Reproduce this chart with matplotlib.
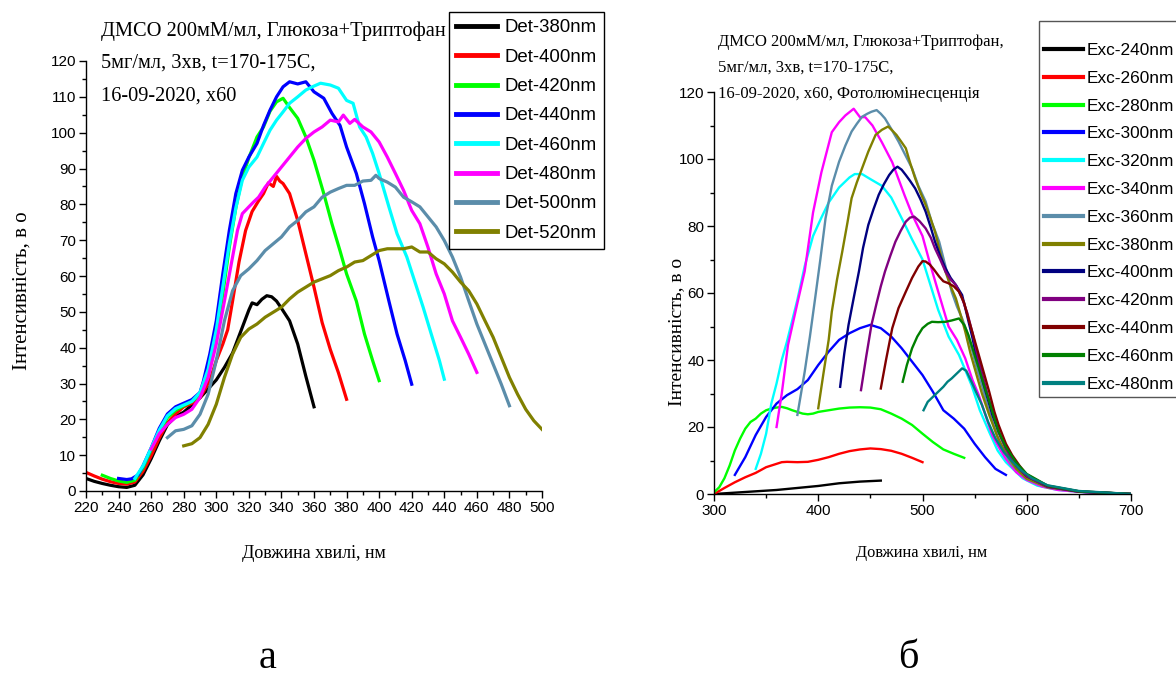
import matplotlib
matplotlib.use("Agg")
import matplotlib.pyplot as plt
from matplotlib.ticker import MultipleLocator

SANS = ["Liberation Sans", "DejaVu Sans"]
SERIF = ["Liberation Serif", "DejaVu Serif"]

# ---- panel (а): detection at fixed emission, scanned excitation ----
det380_nm = [220, 225, 230, 235, 240, 245, 250, 255, 260, 265, 270, 275, 280, 285, 290, 295, 300, 305,
             310, 315, 320, 322, 325, 328, 331, 334, 337, 340, 345, 350, 355, 360]
det380_i = [3.5, 2.7, 2.1, 1.6, 1.2, 1.0, 1.6, 4.5, 9, 14, 18.5, 20.8, 22, 24, 26, 28.5, 31, 34.5,
            38.5, 44.5, 50.5, 52.5, 52, 53.5, 54.5, 54.2, 53, 51, 47.5, 41, 32, 23.5]

det400_nm = [220, 225, 230, 235, 240, 245, 250, 255, 260, 265, 270, 275, 280, 285, 290, 296, 300, 304,
             307, 310, 314, 318, 322, 326, 329, 332, 335, 337, 339, 341, 345, 350, 355, 360, 365, 370,
             375, 380]
det400_i = [5.2, 4.2, 3.3, 2.6, 2.1, 1.9, 2.5, 5.5, 9.8, 14.8, 19, 21.5, 23.5, 24.5, 26, 30.8, 36.4, 41,
            45, 53, 64, 72.7, 78, 81, 83, 86, 85, 87.8, 86.5, 85.8, 83, 75.5, 66.2, 56.9, 47, 39.5,
            33, 25.6]

det420_nm = [230, 235, 240, 245, 250, 255, 260, 265, 270, 275, 280, 285, 290, 296, 300, 304, 308, 312,
             316, 320, 325, 329, 333, 337, 341, 345, 350, 355, 360, 366, 371, 376, 380, 386, 391, 396, 400]
det420_i = [4.4, 3.5, 2.8, 2.4, 3.0, 6.5, 11.5, 16.5, 20.5, 22.5, 23.8, 25, 26.6, 34.5, 43.8, 55, 68, 79,
            87.6, 93, 98.8, 101.6, 106, 108.6, 109.6, 107, 104, 98.8, 92.3, 83, 74.6, 67, 60.6, 53, 43.8,
            36.4, 30.8]

det440_nm = [240, 245, 248, 252, 255, 260, 265, 270, 275, 280, 285, 290, 292, 296, 300, 304, 308, 312,
             316, 320, 325, 329, 333, 337, 341, 345, 350, 355, 360, 366, 371, 376, 380, 386, 391, 396,
             400, 406, 411, 416, 420]
det440_i = [3.5, 3.2, 3.4, 4.5, 7.0, 12, 17.5, 21.5, 23.5, 24.5, 25.5, 27.5, 30.5, 38.2, 47.5, 60.6, 72.7,
            83, 89.5, 93.2, 97, 102, 106.3, 110, 112.8, 114.2, 113.6, 114.2, 111.4, 109.6, 105.4, 102,
            96, 88.6, 80.2, 70.9, 64.3, 53, 43.8, 36.4, 29.8]

det460_nm = [250, 255, 260, 265, 270, 275, 280, 285, 290, 295, 300, 304, 308, 312, 316, 320, 325, 329,
             333, 337, 341, 345, 350, 355, 359, 364, 370, 375, 380, 384, 388, 392, 396, 400, 406, 411,
             417, 421, 427, 432, 437, 440]
det460_i = [3.5, 7, 12, 17, 21, 23, 24, 25, 27.5, 34, 45, 57, 69, 79, 86.7, 90.4, 93.2, 97, 100.7,
            103.5, 105.8, 108.2, 110, 111.9, 112.8, 113.8, 113.3, 112.4, 109, 108.2, 101.6, 98.8, 94.2,
            88.6, 79.3, 71.8, 65.3, 59.7, 51.3, 43.8, 36.4, 31.2]

det480_nm = [260, 265, 270, 275, 280, 285, 290, 295, 300, 305, 310, 313, 316, 320, 323, 326, 330, 335,
             340, 345, 350, 355, 360, 365, 370, 375, 378, 382, 385, 390, 395, 400, 405, 410, 415, 420,
             425, 430, 435, 440, 445, 450, 455, 460]
det480_i = [11.7, 16, 18.6, 20.5, 21.4, 22.8, 26.1, 31.7, 41, 53, 65.3, 72.7, 77.4, 79.3, 80.7, 82, 84.8,
            87.6, 90.4, 93.2, 96, 98.4, 100.2, 101.6, 103.5, 103, 104.9, 102.6, 103.7, 101.6, 100.2,
            97.4, 93.2, 88.6, 83.9, 78.3, 74.6, 68, 60.6, 55, 47.5, 42.9, 38.2, 33.1]

det500_nm = [270, 275, 280, 285, 290, 295, 300, 305, 310, 315, 320, 325, 330, 335, 340, 345, 350, 355,
             360, 365, 370, 375, 380, 385, 390, 395, 398, 400, 405, 410, 415, 420, 425, 430, 435, 440,
             445, 450, 455, 460, 465, 470, 475, 480]
det500_i = [14.9, 16.8, 17.2, 18.2, 21.4, 27, 36.4, 47.5, 55.9, 60.1, 62, 64.3, 67.1, 69, 70.9, 73.7,
            75.5, 77.9, 79.3, 82, 83.4, 84.4, 85.3, 85.3, 86.5, 86.7, 88.1, 87.2, 86.2, 84.8, 82, 80.7,
            79.3, 76.5, 73.7, 69.9, 65.3, 59.7, 53.1, 46.6, 41, 35.4, 29.8, 23.8]

det520_nm = [280, 285, 290, 295, 300, 305, 310, 315, 320, 325, 330, 335, 340, 345, 350, 355, 360, 365,
             370, 375, 380, 385, 390, 395, 400, 405, 410, 415, 420, 425, 430, 435, 440, 445, 450, 455,
             460, 465, 470, 475, 480, 485, 490, 495, 500]
det520_i = [12.6, 13.2, 14.9, 18.6, 24.2, 31.7, 38.2, 42.9, 45.2, 46.6, 48.5, 49.9, 51.3, 53.6, 55.5,
            56.9, 58.3, 59.2, 60.1, 61.5, 62.5, 63.9, 64.3, 65.7, 67.1, 67.6, 67.6, 67.6, 68.1, 66.7,
            66.7, 64.8, 63.4, 61.1, 58.3, 55.9, 52.2, 47.5, 42.9, 37.3, 31.7, 27, 22.8, 19.6, 17.2]

det_labels = ["Det-380nm", "Det-400nm", "Det-420nm", "Det-440nm",
              "Det-460nm", "Det-480nm", "Det-500nm", "Det-520nm"]
det_colors = ["#000000", "#ff0000", "#00ff00", "#0000ff",
              "#00ffff", "#ff00ff", "#5b8daa", "#808000"]

# ---- panel (б): photoluminescence at fixed excitation ----
exc240_nm = [300, 320, 340, 360, 380, 400, 420, 440, 460]
exc240_i = [0, 0.4, 0.8, 1.2, 1.8, 2.4, 3.2, 3.7, 4.0]

exc260_nm = [300, 310, 320, 330, 340, 350, 360, 365, 370, 380, 390, 400, 410, 420, 430, 440, 450, 460,
             470, 480, 490, 500]
exc260_i = [0, 1.8, 3.5, 5, 6.3, 8, 9, 9.5, 9.6, 9.5, 9.6, 10.2, 11, 12, 12.8, 13.3, 13.6, 13.4, 12.9,
            12, 10.8, 9.5]

exc280_nm = [300, 305, 310, 315, 320, 325, 330, 335, 340, 345, 350, 355, 360, 365, 370, 375, 380, 385,
             390, 395, 400, 410, 420, 430, 440, 450, 460, 470, 480, 490, 500, 510, 520, 530, 540]
exc280_i = [0.5, 2, 4.7, 8.5, 13, 16.5, 19.5, 21.5, 22.5, 24, 25, 25.5, 25.8, 26, 25.6, 25, 24.5, 24,
            23.8, 24, 24.5, 25, 25.5, 25.8, 25.9, 25.8, 25.3, 24, 22.5, 20.6, 18, 15.5, 13.3, 12, 10.8]

exc300_nm = [320, 330, 340, 350, 360, 370, 380, 390, 400, 410, 420, 430, 440, 450, 460, 470, 480, 490,
             500, 510, 520, 530, 540, 550, 560, 570, 580]
exc300_i = [5.7, 11, 17.6, 23, 27, 29.5, 31.3, 34, 38.5, 42.5, 46, 48, 49.5, 50.5, 49.5, 47, 43.5, 39.5,
            35.5, 30.5, 25, 22.5, 19.5, 15, 11, 7.5, 5.7]

exc320_nm = [340, 345, 350, 355, 360, 365, 370, 380, 387, 395, 403, 410, 420, 430, 435, 442, 450, 461,
             470, 483, 490, 500, 508, 515, 525, 535, 547, 555, 564, 572, 580, 596, 610, 630, 660, 700]
exc320_i = [7.5, 12, 18, 27, 33, 40, 45.5, 58, 68, 77, 82.5, 87, 91.5, 94.5, 95.5, 95.5, 94, 92, 88.5,
            80.5, 76, 70, 62, 55, 47, 41.5, 32.5, 25, 18.5, 13, 9.5, 4.7, 2.5, 1.2, 0.4, 0]

exc340_nm = [360, 365, 371, 380, 387, 395, 403, 413, 420, 426, 434, 440, 445, 452, 461, 471, 483, 490,
             500, 507, 515, 525, 533, 541, 548, 554, 561, 567, 575, 580, 590, 600, 615, 630, 660, 700]
exc340_i = [20, 30, 44.5, 57, 66.5, 84, 96, 108, 111, 113, 115, 112.5, 112.5, 110, 105, 99, 89, 83.5,
            77, 69, 60.5, 50, 46, 40.5, 34, 29.5, 23, 17.5, 13, 10.5, 6.5, 4.2, 2.2, 1.2, 0.4, 0]

exc360_nm = [380, 387, 392, 397, 402, 407, 413, 420, 426, 432, 437, 442, 447, 451, 456, 460, 464, 470,
             477, 483, 490, 496, 503, 509, 516, 522, 528, 533, 538, 543, 548, 552, 557, 562, 567, 575,
             585, 600, 620, 650, 700]
exc360_i = [23.6, 36.5, 47, 58.4, 70, 82.3, 92, 99.2, 104, 108.2, 110.5, 112.6, 113.5, 114.1, 114.6,
            113.5, 112.1, 109, 105.2, 101.5, 97.2, 92, 87.3, 81, 75.3, 68, 60.4, 56, 52.4, 48, 42.5,
            37.5, 32.5, 26.5, 21.6, 14.5, 9, 4.5, 2, 0.7, 0]

exc380_nm = [400, 405, 410, 413, 418, 423, 428, 432, 437, 442, 448, 455, 461, 467, 471, 475, 480, 484,
             488, 493, 498, 503, 508, 512, 517, 522, 527, 532, 537, 541, 546, 551, 557, 564, 572, 580,
             590, 600, 620, 650, 700]
exc380_i = [25.6, 36, 46, 54.4, 64, 72.3, 81, 88.3, 93, 97.2, 102.2, 107.2, 108.7, 109.7, 108.5, 107.2,
            105, 103.2, 99, 94.2, 90, 86.3, 82, 78.3, 72, 66.4, 62, 58.4, 53, 48.5, 42, 36.5, 30, 23.6,
            17, 12.2, 7.5, 4.6, 2, 0.7, 0]

exc400_nm = [421, 425, 429, 434, 439, 443, 448, 453, 458, 463, 468, 472, 476, 480, 484, 488, 493, 498,
             503, 508, 512, 517, 522, 527, 532, 538, 543, 548, 552, 557, 562, 567, 573, 580, 590, 600,
             620, 650, 700]
exc400_i = [32, 42, 50.4, 58.5, 66.4, 73.5, 80.3, 85, 89.3, 92.5, 95.2, 96.8, 97.7, 96.8, 95.2, 93.5,
            91.2, 88, 84.3, 79.5, 75.3, 71, 67.4, 64.5, 62.4, 59.4, 53, 46.5, 40.5, 34.5, 29, 23.6,
            18.5, 13.6, 8.5, 5.3, 2.2, 0.7, 0]

exc420_nm = [441, 446, 451, 456, 460, 464, 469, 474, 479, 484, 488, 492, 497, 503, 508, 512, 517, 522,
             527, 532, 538, 543, 548, 553, 558, 563, 568, 575, 582, 590, 600, 620, 650, 700]
exc420_i = [31, 41, 50.4, 57, 62, 66.4, 71, 75.3, 78.5, 81.3, 82.5, 82.8, 81.5, 79.3, 76.5, 73.3, 70,
            66.4, 64, 62.4, 58.4, 54, 48, 41, 35, 29, 24, 17, 12.5, 8.5, 5.4, 2.2, 0.7, 0]

exc440_nm = [460, 465, 471, 477, 484, 490, 496, 500, 503, 507, 511, 516, 520, 525, 530, 535, 540, 544,
             549, 554, 559, 564, 569, 573, 580, 586, 593, 600, 620, 650, 700]
exc440_i = [31.5, 40, 49.5, 55.5, 60.4, 64.5, 67.9, 69.5, 69.4, 68.5, 67, 64.9, 63.5, 62.9, 62, 60.4,
            57, 52.4, 47, 41.5, 36, 30.5, 24.5, 20.6, 15, 11.6, 8.5, 5.8, 2.4, 0.8, 0]

exc460_nm = [481, 485, 490, 495, 500, 505, 509, 515, 522, 528, 535, 540, 544, 549, 554, 559, 564, 569,
             573, 580, 590, 600, 620, 650, 700]
exc460_i = [33.5, 38.5, 43.5, 47, 49.5, 50.8, 51.4, 51.3, 51.4, 51.8, 52.4, 50.5, 47.5, 42.5, 37.5,
            32.5, 27.6, 22.5, 18.6, 14, 9.3, 6, 2.5, 0.8, 0]

exc480_nm = [501, 505, 510, 515, 520, 524, 528, 533, 538, 542, 547, 552, 557, 563, 570, 578, 586, 595,
             605, 620, 650, 700]
exc480_i = [25, 27.5, 29, 30.5, 32, 33.5, 34.5, 36, 37.5, 36.8, 33.5, 30, 26.6, 21.5, 16.6, 12.5, 9.7,
            7, 4.7, 2.6, 0.9, 0]

exc_labels = ["Exc-240nm", "Exc-260nm", "Exc-280nm", "Exc-300nm", "Exc-320nm", "Exc-340nm",
              "Exc-360nm", "Exc-380nm", "Exc-400nm", "Exc-420nm", "Exc-440nm", "Exc-460nm",
              "Exc-480nm"]
exc_colors = ["#000000", "#ff0000", "#00ff00", "#0000ff", "#00ffff", "#ff00ff", "#5b8daa",
              "#808000", "#000080", "#800080", "#800000", "#008000", "#008080"]

det_series = [(det380_nm, det380_i), (det400_nm, det400_i), (det420_nm, det420_i),
              (det440_nm, det440_i), (det460_nm, det460_i), (det480_nm, det480_i),
              (det500_nm, det500_i), (det520_nm, det520_i)]
exc_series = [(exc240_nm, exc240_i), (exc260_nm, exc260_i), (exc280_nm, exc280_i),
              (exc300_nm, exc300_i), (exc320_nm, exc320_i), (exc340_nm, exc340_i),
              (exc360_nm, exc360_i), (exc380_nm, exc380_i), (exc400_nm, exc400_i),
              (exc420_nm, exc420_i), (exc440_nm, exc440_i), (exc460_nm, exc460_i),
              (exc480_nm, exc480_i)]

W, H = 1176, 677
fig = plt.figure(figsize=(W / 100, H / 100), dpi=100)


def px_axes(x0, y0, x1, y1):
    # axes rectangle given in pixel coordinates (top-left origin)
    return fig.add_axes([x0 / W, 1 - y1 / H, (x1 - x0) / W, (y1 - y0) / H])


def style_axes(ax, xmaj, xmin, ymaj, ymin):
    for side in ("top", "right"):
        ax.spines[side].set_visible(False)
    for side in ("left", "bottom"):
        ax.spines[side].set_linewidth(1.0)
    ax.xaxis.set_major_locator(MultipleLocator(xmaj))
    ax.xaxis.set_minor_locator(MultipleLocator(xmin))
    ax.yaxis.set_major_locator(MultipleLocator(ymaj))
    ax.yaxis.set_minor_locator(MultipleLocator(ymin))
    ax.tick_params(which="major", direction="out", length=5, width=1.0, labelsize=11, pad=2)
    ax.tick_params(which="minor", direction="out", length=3, width=1.0)
    for lab in ax.get_xticklabels() + ax.get_yticklabels():
        lab.set_family(SANS)


# left panel
ax1 = px_axes(86, 61, 542, 491)
for (x, y), c, lab in zip(det_series, det_colors, det_labels):
    ax1.plot(x, y, color=c, lw=2.3, label=lab, solid_joinstyle="round")
ax1.set_xlim(220, 500)
ax1.set_ylim(0, 120)
style_axes(ax1, 20, 10, 10, 5)

leg1 = ax1.legend(loc="upper left", bbox_to_anchor=(449 / W, 1 - 12 / H),
                  bbox_transform=fig.transFigure, prop={"family": SANS, "size": 13.4},
                  handlelength=2.2, handletextpad=0.38, labelspacing=0.66, borderpad=0.4,
                  borderaxespad=0, fancybox=False, framealpha=1, edgecolor="black")
leg1.get_frame().set_linewidth(1.0)
for h in leg1.get_lines():
    h.set_linewidth(3.5)

# right panel
ax2 = px_axes(714, 92, 1131, 494)
for (x, y), c, lab in zip(exc_series, exc_colors, exc_labels):
    ax2.plot(x, y, color=c, lw=1.7, label=lab, solid_joinstyle="round")
ax2.set_xlim(300, 700)
ax2.set_ylim(0, 120)
style_axes(ax2, 100, 50, 20, 10)

leg2 = ax2.legend(loc="upper left", bbox_to_anchor=(1039 / W, 1 - 21 / H),
                  bbox_transform=fig.transFigure, prop={"family": SANS, "size": 12.4},
                  title=" ", title_fontsize=2,
                  handlelength=2.25, handletextpad=0.2, labelspacing=0.74, borderpad=0.3,
                  borderaxespad=0, fancybox=False, framealpha=1, edgecolor="#555555")
leg2.get_frame().set_linewidth(1.0)
for h in leg2.get_lines():
    h.set_linewidth(3.0)

# sample descriptions
left_note = ["ДМСО 200мМ/мл, Глюкоза+Триптофан", "5мг/мл, 3хв, t=170-175С,", "16-09-2020, х60"]
for txt, yc in zip(left_note, [31, 63.5, 96]):
    fig.text(101 / W, 1 - yc / H, txt, family=SERIF, fontsize=14.7, va="center", ha="left")

right_note = ["ДМСО 200мМ/мл, Глюкоза+Триптофан,", "5мг/мл, 3хв, t=170-175С,",
              "16-09-2020, х60, Фотолюмінесценція"]
for txt, yc in zip(right_note, [42, 68, 94]):
    fig.text(718 / W, 1 - yc / H, txt, family=SERIF, fontsize=12, va="center", ha="left")

# axis titles
fig.text(22 / W, 1 - 291 / H, "Інтенсивність, в о", family=SERIF, fontsize=15,
         rotation=90, ha="center", va="center")
fig.text(677 / W, 1 - 332 / H, "Інтенсивність, в о", family=SERIF, fontsize=14,
         rotation=90, ha="center", va="center")
fig.text(314 / W, 1 - 553 / H, "Довжина хвилі, нм", family=SERIF, fontsize=13,
         ha="center", va="center")
fig.text(922 / W, 1 - 553 / H, "Довжина хвилі, нм", family=SERIF, fontsize=11.8,
         ha="center", va="center")

# panel letters
fig.text(268 / W, 1 - 668 / H, "а", family=SERIF, fontsize=29, ha="center", va="baseline")
fig.text(908 / W, 1 - 668 / H, "б", family=SERIF, fontsize=29, ha="center", va="baseline")

fig.savefig("out.png", dpi=100)
